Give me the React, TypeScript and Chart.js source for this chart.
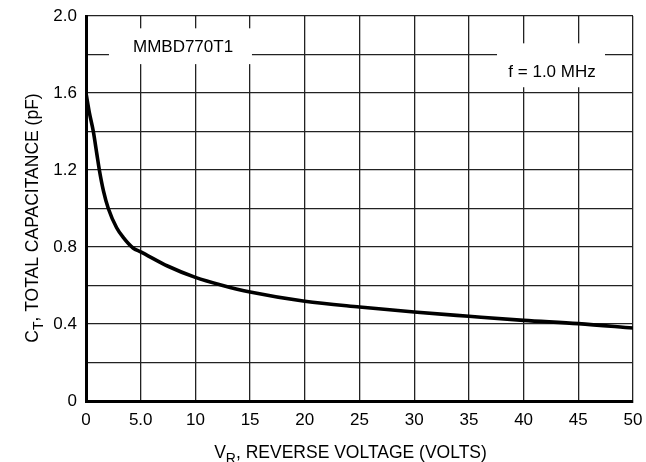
import { useEffect, useRef } from 'react';
import { Chart, registerables } from 'chart.js';

Chart.register(...registerables);

// Reverse voltage (V) and total capacitance (pF)
const voltage = [0, 0.3, 0.67, 1.0, 1.22, 1.6, 2.04, 2.8, 3.4, 4.3, 5, 7.5, 10, 12.5, 15, 20, 25, 30, 35, 40, 45, 50];
const capacitance = [1.6, 1.5, 1.4, 1.28, 1.2, 1.09, 1.0, 0.9, 0.85, 0.795, 0.775, 0.7, 0.642, 0.6, 0.566, 0.518, 0.488, 0.462, 0.44, 0.419, 0.402, 0.379];

const xGrid = [0, 5, 10, 15, 20, 25, 30, 35, 40, 45, 50];
const xTickLabels = ['0', '5.0', '10', '15', '20', '25', '30', '35', '40', '45', '50'];
const yGrid = [0, 0.2, 0.4, 0.6, 0.8, 1.0, 1.2, 1.4, 1.6, 1.8, 2.0];
const yTickLabels = ['0', '', '0.4', '', '0.8', '', '1.2', '', '1.6', '', '2.0'];

const deviceLabel = 'MMBD770T1';
const freqLabel = 'f = 1.0 MHz';
const xTitleParts = [
  { t: 'V', sub: false },
  { t: 'R', sub: true },
  { t: ', REVERSE VOLTAGE (VOLTS)', sub: false },
];
const yTitleParts = [
  { t: 'C', sub: false },
  { t: 'T', sub: true },
  { t: ', TOTAL CAPACITANCE (pF)', sub: false },
];

const FONT = '"Liberation Sans Narrow", "Liberation Sans", Arial, sans-serif';

function drawParts(ctx: CanvasRenderingContext2D, parts: { t: string; sub: boolean }[], size: number) {
  const mainFont = `${size}px ${FONT}`;
  const subFont = `${Math.round(size * 0.78)}px ${FONT}`;
  let total = 0;
  const widths = parts.map((p) => {
    ctx.font = p.sub ? subFont : mainFont;
    const w = ctx.measureText(p.t).width;
    total += w;
    return w;
  });
  let x = -total / 2;
  ctx.textAlign = 'left';
  ctx.textBaseline = 'alphabetic';
  parts.forEach((p, i) => {
    ctx.font = p.sub ? subFont : mainFont;
    ctx.fillText(p.t, x, p.sub ? size * 0.3 : 0);
    x += widths[i];
  });
}

const annotationPlugin = {
  id: 'annotations',
  beforeDatasetsDraw(chart: any) {
    const { ctx, scales } = chart;
    const xs = scales.x;
    const ys = scales.y;
    const box = (x0: number, x1: number, y0: number, y1: number) => {
      const px0 = xs.getPixelForValue(x0);
      const px1 = xs.getPixelForValue(x1);
      const py0 = ys.getPixelForValue(y0);
      const py1 = ys.getPixelForValue(y1);
      ctx.fillStyle = '#fff';
      ctx.fillRect(px0, py1, px1 - px0, py0 - py1);
    };
    ctx.save();
    box(2.1, 15.17, 1.75, 1.936);
    box(37.57, 47.44, 1.63, 1.858);
    ctx.fillStyle = '#000';
    ctx.textAlign = 'center';
    ctx.textBaseline = 'middle';
    ctx.font = `17px ${FONT}`;
    ctx.fillText(deviceLabel, xs.getPixelForValue(8.87), ys.getPixelForValue(1.838));
    ctx.font = `17px ${FONT}`;
    ctx.fillText(freqLabel, xs.getPixelForValue(42.6), ys.getPixelForValue(1.71));
    ctx.restore();
  },
  afterDraw(chart: any) {
    const { ctx, chartArea } = chart;
    ctx.save();
    ctx.fillStyle = '#000';
    ctx.translate(chartArea.left + (chartArea.right - chartArea.left) / 2 - 9, 458);
    drawParts(ctx, xTitleParts, 17.5);
    ctx.restore();
    ctx.save();
    ctx.fillStyle = '#000';
    ctx.translate(38, 218);
    ctx.rotate(-Math.PI / 2);
    drawParts(ctx, yTitleParts, 17.5);
    ctx.restore();
  },
};

export default function App() {
  const ref = useRef<HTMLCanvasElement>(null);
  useEffect(() => {
    document.body.style.margin = '0';
    const canvas = ref.current;
    if (!canvas) return;
    const chart = new Chart(canvas, {
      type: 'line',
      data: {
        datasets: [
          {
            data: voltage.map((v, i) => ({ x: v, y: capacitance[i] })),
            borderColor: '#000',
            borderWidth: 3.6,
            pointRadius: 0,
            cubicInterpolationMode: 'monotone',
            fill: false,
          },
        ],
      },
      options: {
        animation: false,
        responsive: false,
        devicePixelRatio: 1,
        layout: { padding: 0 },
        plugins: { legend: { display: false }, tooltip: { enabled: false } },
        scales: {
          x: {
            type: 'linear',
            min: 0,
            max: 50,
            afterBuildTicks: (s: any) => {
              s.ticks = xGrid.map((v) => ({ value: v }));
            },
            afterFit: (s: any) => {
              s.height = 61;
              s.paddingLeft = 0;
              s.paddingRight = 13;
            },
            ticks: {
              autoSkip: false,
              maxRotation: 0,
              padding: 9,
              color: '#000',
              font: { family: FONT, size: 17 },
              callback: (_v: any, i: number) => xTickLabels[i],
            },
            grid: { color: '#222', lineWidth: 1.3, drawTicks: false },
            border: { display: true, color: '#000', width: 3 },
          },
          y: {
            type: 'linear',
            min: 0,
            max: 2,
            afterBuildTicks: (s: any) => {
              s.ticks = yGrid.map((v) => ({ value: v }));
            },
            afterFit: (s: any) => {
              s.width = 86;
              s.paddingTop = 16;
              s.paddingBottom = 0;
            },
            ticks: {
              autoSkip: false,
              padding: 9,
              color: '#000',
              font: { family: FONT, size: 17 },
              callback: (_v: any, i: number) => yTickLabels[i],
            },
            grid: { color: '#222', lineWidth: 1.3, drawTicks: false },
            border: { display: true, color: '#000', width: 3 },
          },
        },
      },
      plugins: [annotationPlugin],
    });
    return () => chart.destroy();
  }, []);
  return (
    <div style={{ width: 646, height: 462, background: '#fff' }}>
      <canvas ref={ref} width={646} height={462} style={{ display: 'block' }} />
    </div>
  );
}
